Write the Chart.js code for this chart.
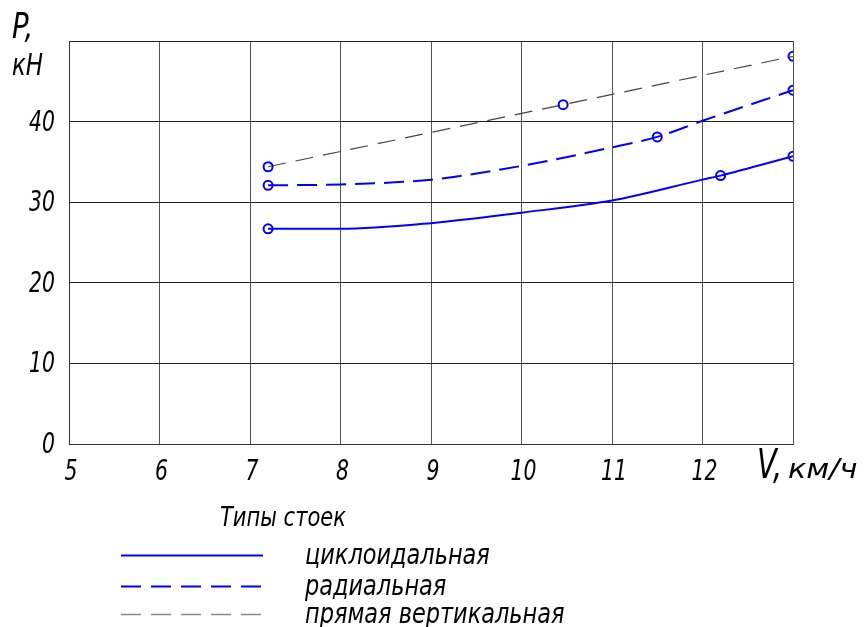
<!DOCTYPE html>
<html>
<head>
<meta charset="utf-8">
<script src="https://cdn.jsdelivr.net/npm/chart.js@4.4.1/dist/chart.umd.min.js"></script>
<style>
  html, body { margin: 0; padding: 0; background: #fff; }
  #wrap { width: 865px; height: 627px; position: relative; }
</style>
</head>
<body>
<div id="wrap"><canvas id="chart"></canvas></div>
<script>
// ---------- DATA ----------
const xTicks = [5, 6, 7, 8, 9, 10, 11, 12, 13];
const yTicks = [0, 10, 20, 30, 40, 50];

// циклоидальная
const cycX = [7.2, 8, 9, 10, 11, 12, 12.2, 13];
const cycY = [26.7, 26.7, 27.4, 28.7, 30.2, 32.8, 33.3, 35.7];
const cycMarks = [7.2, 12.2, 13];

// радиальная
const radX = [7.2, 8, 9, 10, 11, 11.5, 12, 13];
const radY = [32.1, 32.2, 32.8, 34.5, 36.8, 38.1, 40.1, 43.9];
const radMarks = [7.2, 11.5, 13];

// прямая вертикальная
const strX = [7.2, 10.46, 13];
const strY = [34.4, 42.1, 48.1];
const strMarks = [7.2, 10.46, 13];

const seriesNames = ["циклоидальная", "радиальная", "прямая вертикальная"];
const legendTitle = "Типы стоек";

const FONT = '"Liberation Sans Narrow", "DejaVu Sans Condensed", "Liberation Sans", sans-serif';

const pts = (xs, ys) => xs.map((x, i) => ({ x: x, y: ys[i] }));
const markRadius = (marks) => (ctx) => {
  const p = ctx.raw;
  return p && marks.includes(p.x) ? 4.5 : 0;
};

function lineSet(label, xs, ys, marks, color, width, dash) {
  return {
    label: label,
    data: pts(xs, ys),
    borderColor: color,
    borderWidth: width,
    borderDash: dash,
    cubicInterpolationMode: "monotone",
    pointRadius: markRadius(marks),
    pointHoverRadius: markRadius(marks),
    pointBorderColor: "#0000ff",
    pointBorderWidth: 2,
    pointBackgroundColor: "rgba(0,0,0,0)",
    fill: false
  };
}

// узкий наклонный текст (чертёжный шрифт)
function txt(c, s, x, y, size, sx, align) {
  c.save();
  c.font = "italic " + size + "px " + FONT;
  c.textAlign = align || "left";
  c.translate(x, y);
  c.scale(sx, 1);
  c.fillText(s, 0, 0);
  c.restore();
}

// ---------- TEXT + LEGEND ----------
const drawing = {
  id: "drawing",
  afterDraw(chart) {
    const c = chart.ctx;
    const area = chart.chartArea;
    const xs = chart.scales.x, ys = chart.scales.y;
    c.save();
    c.fillStyle = "#000";
    c.textBaseline = "alphabetic";

    // метки осей
    xs.ticks.forEach(t => {
      if (t.value === 13) return;
      txt(c, String(t.value), xs.getPixelForValue(t.value) + 2, area.bottom + 36, 29, 0.78, "center");
    });
    ys.ticks.forEach(t => {
      if (t.value === 50) return;
      txt(c, String(t.value), area.left - 14, ys.getPixelForValue(t.value) + 9, 29, 0.78, "right");
    });

    // подпись оси Y
    txt(c, "P,", 12, 38, 36, 0.85);
    txt(c, "кН", 12, 75, 30, 0.85);

    // подпись оси X
    txt(c, "V,", area.right - 36, 478, 40, 0.8);
    txt(c, "км/ч", area.right - 5, 478, 27, 1.25);

    // легенда
    txt(c, legendTitle, 220, 526, 26, 0.9);
    const rows = [555, 586, 614];
    chart.data.datasets.forEach((ds, i) => {
      const y = rows[i];
      c.save();
      c.strokeStyle = i === 2 ? "#888" : ds.borderColor;
      c.lineWidth = i === 2 ? 1.3 : ds.borderWidth;
      c.setLineDash(ds.borderDash && ds.borderDash.length ? [20, 10] : []);
      c.beginPath();
      c.moveTo(121, y + 0.5);
      c.lineTo(263, y + 0.5);
      c.stroke();
      c.restore();
      txt(c, seriesNames[i], 305, y + 9, 29, 0.86);
    });
    c.restore();
  }
};

const chart = new Chart(document.getElementById("chart"), {
  type: "line",
  data: {
    datasets: [
      lineSet(seriesNames[0], cycX, cycY, cycMarks, "#0000ff", 2, []),
      lineSet(seriesNames[1], radX, radY, radMarks, "#0000ff", 2, [20, 9]),
      lineSet(seriesNames[2], strX, strY, strMarks, "#444444", 1.2, [18, 10])
    ]
  },
  options: {
    responsive: true,
    maintainAspectRatio: false,
    animation: false,
    layout: { padding: { left: 0, right: 72, top: 41, bottom: 143 } },
    plugins: {
      legend: { display: false },
      tooltip: { enabled: false }
    },
    scales: {
      x: {
        type: "linear",
        min: xTicks[0],
        max: xTicks[xTicks.length - 1],
        afterBuildTicks: (s) => { s.ticks = xTicks.map(v => ({ value: v })); },
        afterFit: (s) => { s.height = 40; },
        grid: { color: "#555", lineWidth: 1, drawTicks: false },
        border: { color: "#333", width: 1 },
        ticks: { display: false }
      },
      y: {
        min: yTicks[0],
        max: yTicks[yTicks.length - 1],
        afterBuildTicks: (s) => { s.ticks = yTicks.map(v => ({ value: v })); },
        afterFit: (s) => { s.width = 69; },
        grid: { color: "#222", lineWidth: 1, drawTicks: false },
        border: { color: "#333", width: 1 },
        ticks: { display: false }
      }
    }
  },
  plugins: [drawing]
});
</script>
</body>
</html>
